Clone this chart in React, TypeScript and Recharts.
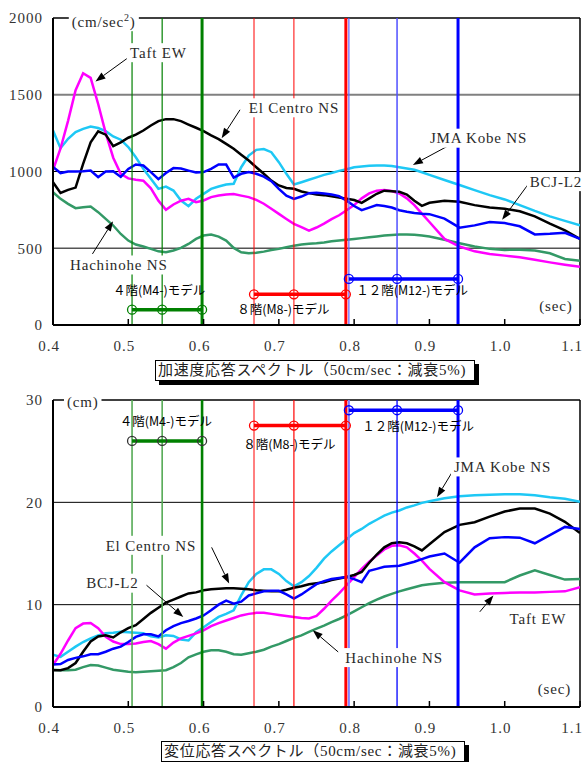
import React from "react";
import { ComposedChart, Line, XAxis, YAxis, ReferenceLine, ReferenceDot } from "recharts";

// natural period (sec)
const periods = [
  0.40, 0.41, 0.42, 0.43, 0.44, 0.45, 0.46, 0.47, 0.48, 0.49,
  0.50, 0.51, 0.52, 0.53, 0.54, 0.55, 0.56, 0.57, 0.58, 0.59,
  0.60, 0.61, 0.62, 0.63, 0.64, 0.65, 0.66, 0.67, 0.68, 0.69,
  0.70, 0.71, 0.72, 0.73, 0.74, 0.75, 0.76, 0.77, 0.78, 0.79,
  0.80, 0.81, 0.82, 0.83, 0.84, 0.85, 0.86, 0.87, 0.88, 0.89,
  0.90, 0.92, 0.94, 0.96, 0.98, 1.00, 1.02, 1.04, 1.06, 1.08, 1.10,
];

// acceleration response (cm/sec2)
const taftAcc = [
  1010, 1150, 1330, 1530, 1640, 1610, 1440, 1250, 1090, 985,
  955, 946, 940, 890, 810, 750, 785, 810, 822, 800,
  811, 833, 843, 850, 854, 843, 833, 815, 790, 757,
  724, 691, 659, 637, 615, 635, 660, 690, 715, 748,
  781, 825, 857, 875, 879, 873, 857, 825, 781, 726,
  671, 561, 511, 480, 463, 452, 441, 425, 408, 393, 379,
];
const elcentroAcc = [
  930, 860, 880, 895, 1050, 1190, 1262, 1240, 1165, 1190,
  1220, 1240, 1267, 1300, 1328, 1341, 1341, 1328, 1306, 1285,
  1263, 1235, 1211, 1180, 1148, 1109, 1072, 1028, 985, 941,
  909, 893, 887, 870, 859, 850, 846, 838, 831, 822,
  814, 796, 825, 855, 875, 872, 868, 850, 810, 776,
  796, 809, 803, 781, 765, 757, 741, 708, 660, 616, 561,
];
const kobeAcc = [
  1267, 1152, 1213, 1257, 1278, 1293, 1283, 1263, 1228, 1207,
  1159, 1093, 1017, 952, 887, 902, 876, 811, 774, 822,
  854, 887, 902, 915, 920, 1028, 1104, 1141, 1146, 1126,
  1061, 985, 915, 930, 946, 962, 978, 990, 1004, 1015,
  1028, 1033, 1037, 1039, 1039, 1036, 1028, 1020, 1011, 995,
  978, 945, 912, 879, 846, 818, 781, 743, 708, 678, 649,
];
const bcjAcc = [
  1030, 990, 1000, 1000, 1002, 1006, 963, 1000, 1002, 965,
  1017, 1046, 1039, 996, 950, 990, 1022, 1020, 1006, 993,
  996, 1017, 1046, 1045, 960, 985, 996, 985, 967, 937,
  887, 843, 822, 837, 859, 862, 857, 850, 840, 810,
  775, 748, 765, 781, 775, 765, 748, 738, 730, 725,
  722, 693, 634, 649, 671, 664, 643, 590, 594, 601, 561,
];
const hachinoheAcc = [
  865, 822, 789, 761, 767, 772, 735, 691, 648, 593,
  550, 524, 511, 496, 480, 474, 485, 502, 528, 561,
  583, 589, 576, 550, 502, 474, 467, 470, 478, 489,
  496, 507, 517, 524, 530, 533, 538, 545, 550, 555,
  561, 566, 572, 577, 583, 586, 590, 590, 588, 583,
  577, 555, 533, 511, 496, 489, 491, 485, 467, 430, 419,
];

// displacement response (cm)
const taftDisp = [
  4.1, 5.2, 6.5, 7.7, 8.15, 8.2, 7.7, 6.85, 6.4, 6.15,
  6.15, 6.2, 6.35, 6.45, 6.15, 5.7, 6.3, 6.7, 6.95, 7.2,
  7.5, 7.9, 8.2, 8.45, 8.7, 8.95, 9.1, 9.2, 9.2, 9.1,
  9.0, 8.9, 8.8, 8.7, 8.65, 8.9, 9.6, 10.4, 11.1, 11.9,
  12.7, 13.5, 14.2, 14.8, 15.4, 15.75, 15.8, 15.6, 15.0, 14.3,
  13.5, 12.2, 11.4, 11.0, 11.1, 11.15, 11.2, 11.2, 11.25, 11.3, 11.7,
];
const elcentroDisp = [
  3.6, 3.6, 3.8, 4.3, 5.4, 6.4, 6.9, 7.0, 6.8, 7.3,
  7.7, 8.0, 8.6, 9.2, 9.7, 10.2, 10.5, 10.8, 11.1, 11.2,
  11.4, 11.5, 11.55, 11.6, 11.6, 11.55, 11.5, 11.4, 11.35, 11.3,
  11.3, 11.45, 11.65, 11.8, 12.0, 12.1, 12.2, 12.4, 12.55, 12.7,
  12.9, 13.2, 14.1, 14.9, 15.6, 16.0, 16.1, 16.0, 15.7, 15.3,
  15.9, 17.1, 17.8, 18.05, 18.6, 19.1, 19.4, 19.4, 18.9, 18.1, 17.0,
];
const kobeDisp = [
  5.1, 4.9, 5.4, 5.9, 6.35, 6.7, 7.0, 7.2, 7.25, 7.35,
  7.3, 7.25, 7.2, 6.9, 6.8, 7.0, 6.95, 6.6, 6.5, 7.3,
  7.8, 8.3, 8.8, 9.1, 9.45, 10.9, 12.2, 13.0, 13.45, 13.45,
  13.0, 12.3, 11.8, 12.2, 12.8, 13.6, 14.5, 15.2, 15.8, 16.4,
  17.0, 17.4, 17.9, 18.3, 18.7, 19.0, 19.2, 19.5, 19.7, 19.95,
  20.1, 20.4, 20.6, 20.7, 20.75, 20.8, 20.8, 20.7, 20.5, 20.35, 20.05,
];
const bcjDisp = [
  4.15, 4.2, 4.6, 4.8, 4.95, 5.15, 5.15, 5.4, 5.7, 5.9,
  6.35, 6.85, 7.1, 7.1, 6.9, 7.5, 7.9, 8.2, 8.4, 8.65,
  8.95, 9.45, 10.0, 10.4, 10.1, 10.3, 10.9, 11.1, 11.3, 11.35,
  11.35, 11.0, 10.6, 11.0, 11.5, 12.0, 12.3, 12.5, 12.6, 12.7,
  12.5, 12.2, 13.3, 13.5, 13.7, 13.75, 13.8, 14.0, 14.2, 14.45,
  14.7, 15.0, 14.1, 15.6, 16.5, 16.6, 16.55, 16.0, 16.8, 17.6, 17.4,
];
const hachinoheDisp = [
  3.65, 3.6, 3.6, 3.65, 3.9, 4.1, 4.05, 3.85, 3.65, 3.55,
  3.45, 3.4, 3.45, 3.5, 3.55, 3.6, 3.9, 4.3, 4.85, 5.15,
  5.4, 5.55, 5.55, 5.4, 5.15, 5.1, 5.25, 5.4, 5.6, 5.9,
  6.15, 6.45, 6.75, 7.0, 7.35, 7.65, 7.95, 8.3, 8.6, 8.95,
  9.35, 9.75, 10.15, 10.5, 10.8, 11.05, 11.3, 11.5, 11.7, 11.9,
  12.0, 12.15, 12.2, 12.2, 12.2, 12.2, 12.85, 13.35, 12.9, 12.45, 12.5,
];

// model periods (sec)
const m4Periods = [0.505, 0.545, 0.598];
const m8Periods = [0.667, 0.72, 0.789];
const m12Periods = [0.793, 0.857, 0.938];
const accModelLevels = [100, 200, 300];
const dispModelLevels = [26, 27.5, 29];

const xTicks = [0.4, 0.5, 0.6, 0.7, 0.8, 0.9, 1.0, 1.1];
const accTicks = [0, 500, 1000, 1500, 2000];
const dispTicks = [0, 10, 20, 30];

const SERIF = "'Liberation Serif', 'DejaVu Serif', serif";
const JP = "'Noto Sans CJK JP', sans-serif";
const TAG_SIZE = 15;
const TAG_SPACING = 0.8;

const SERIES = [
  { key: "hachinohe", color: "#339966" },
  { key: "kobe", color: "#1ec8f5" },
  { key: "taft", color: "#ff00ff" },
  { key: "elcentro", color: "#000000" },
  { key: "bcj", color: "#0000ff" },
];

const accRows = periods.map((t, i) => ({
  t,
  taft: taftAcc[i],
  elcentro: elcentroAcc[i],
  kobe: kobeAcc[i],
  bcj: bcjAcc[i],
  hachinohe: hachinoheAcc[i],
}));
const dispRows = periods.map((t, i) => ({
  t,
  taft: taftDisp[i],
  elcentro: elcentroDisp[i],
  kobe: kobeDisp[i],
  bcj: bcjDisp[i],
  hachinohe: hachinoheDisp[i],
}));

type VLine = { c: string; w: number };
type Model = { periods: number[]; level: number; color: string; dot: string; lines: VLine[]; label: string; at: [number, number] };
type Tag = { text: string; at: [number, number]; from: [number, number]; to: [number, number] };

const accModels: Model[] = [
  { periods: m4Periods, level: accModelLevels[0], color: "#008000", dot: "#008000", label: "４階(M4-)モデル", at: [0.541, 228],
    lines: [{ c: "#008000", w: 1.2 }, { c: "#008000", w: 1.2 }, { c: "#008000", w: 3 }] },
  { periods: m8Periods, level: accModelLevels[1], color: "#ff0000", dot: "#ff0000", label: "８階(M8-)モデル", at: [0.706, 104],
    lines: [{ c: "#ff0000", w: 1 }, { c: "#ff0000", w: 1 }, { c: "#ff0000", w: 3 }] },
  { periods: m12Periods, level: accModelLevels[2], color: "#0000ff", dot: "#0000ff", label: "１２階(M12-)モデル", at: [0.877, 228],
    lines: [{ c: "#6060ff", w: 1.2 }, { c: "#5050ff", w: 1.5 }, { c: "#0000ff", w: 3 }] },
];
const dispModels: Model[] = [
  { periods: m4Periods, level: dispModelLevels[0], color: "#008000", dot: "#333333", label: "４階(M4-)モデル", at: [0.55, 27.86],
    lines: [{ c: "#55aa55", w: 1.6 }, { c: "#55aa55", w: 1.6 }, { c: "#008000", w: 2.6 }] },
  { periods: m8Periods, level: dispModelLevels[1], color: "#ff0000", dot: "#ff0000", label: "８階(M8-)モデル", at: [0.714, 25.68],
    lines: [{ c: "#ff0000", w: 1 }, { c: "#ff0000", w: 1.2 }, { c: "#ff0000", w: 3 }] },
  { periods: m12Periods, level: dispModelLevels[2], color: "#0000ff", dot: "#0000ff", label: "１２階(M12-)モデル", at: [0.885, 27.37],
    lines: [{ c: "#8080ff", w: 2 }, { c: "#0000ff", w: 1.3 }, { c: "#0000ff", w: 3 }] },
];

const accTags: Tag[] = [
  { text: "Taft EW", at: [0.540, 1774], from: [0.498, 1735], to: [0.4564, 1587] },
  { text: "El Centro NS", at: [0.720, 1415], from: [0.6484, 1402], to: [0.624, 1217] },
  { text: "JMA Kobe NS", at: [0.9657, 1217], from: [0.9396, 1206], to: [0.878, 1043] },
  { text: "BCJ-L2", at: [1.068, 934], from: [1.0315, 919], to: [0.9965, 685] },
  { text: "Hachinohe NS", at: [0.4874, 391], from: [0.4524, 463], to: [0.4798, 676] },
];
const dispTags: Tag[] = [
  { text: "El Centro NS", at: [0.530, 15.8], from: [0.6107, 15.6], to: [0.634, 12.06] },
  { text: "BCJ-L2", at: [0.4788, 12.1], from: [0.5242, 11.9], to: [0.573, 8.8] },
  { text: "JMA Kobe NS", at: [0.9976, 23.46], from: [0.9344, 23.46], to: [0.910, 20.5] },
  { text: "Taft EW", at: [1.044, 8.67], from: [0.9669, 9.3], to: [0.985, 10.9] },
  { text: "Hachinohe NS", at: [0.853, 4.83], from: [0.7788, 5.38], to: [0.745, 7.5] },
];

let measureCtx: CanvasRenderingContext2D | null = null;
function textWidth(text: string, size: number) {
  if (!measureCtx) measureCtx = document.createElement("canvas").getContext("2d");
  if (!measureCtx) return text.length * size * 0.5;
  measureCtx.font = `${size}px ${SERIF}`;
  return measureCtx.measureText(text).width + text.length * TAG_SPACING;
}

const arrowShape = (p: any) => {
  const { x1, y1, x2, y2 } = p;
  if ([x1, y1, x2, y2].some((v) => v == null || isNaN(v))) return <g />;
  const a = Math.atan2(y2 - y1, x2 - x1);
  const L = 10, W = 3.6;
  const bx = x2 - L * Math.cos(a), by = y2 - L * Math.sin(a);
  const pts = [
    [x2, y2],
    [bx + W * Math.sin(a), by - W * Math.cos(a)],
    [bx - W * Math.sin(a), by + W * Math.cos(a)],
  ].map((q) => q.join(",")).join(" ");
  return (
    <g>
      <line x1={x1} y1={y1} x2={bx} y2={by} stroke="#000" strokeWidth={1} />
      <polygon points={pts} fill="#000" />
    </g>
  );
};

const tagShape = (text: string, masked: boolean, sup?: string) => (p: any) => {
  const { cx, cy } = p;
  if (cx == null || cy == null) return <g />;
  const w = textWidth(text + (sup ? ")" : ""), TAG_SIZE) + (sup ? 6 : 0) + 6;
  return (
    <g>
      {masked && <rect x={cx - w / 2} y={cy - 9.5} width={w} height={19} fill="#fff" />}
      <text
        x={cx - w / 2 + 3}
        y={cy}
        dy="0.35em"
        textAnchor="start"
        fontFamily={SERIF}
        fontSize={TAG_SIZE}
        letterSpacing={TAG_SPACING}
        fill="#2a2a2a"
      >
        {text}
        {sup && (
          <>
            <tspan dy={-6} fontSize={10}>{sup}</tspan>
            <tspan dy={6}>)</tspan>
          </>
        )}
      </text>
    </g>
  );
};

const jpShape = (text: string) => (p: any) => {
  const { cx, cy } = p;
  if (cx == null || cy == null) return <g />;
  return (
    <text x={cx} y={cy} dy="0.36em" textAnchor="middle" fontFamily={JP} fontSize={12.5} fill="#000">
      {text}
    </text>
  );
};

type PanelProps = {
  rows: any[];
  yMax: number;
  yTicks: number[];
  grid: { v: number; c: string; w: number }[];
  models: Model[];
  tags: Tag[];
  unit: string;
  unitSup?: string;
  unitAt: [number, number];
  secAt: [number, number];
};

const tickStyle = { fontFamily: SERIF, fontSize: 15, fill: "#333", letterSpacing: 1 };

function Panel({ rows, yMax, yTicks, grid, models, tags, unit, unitSup, unitAt, secAt }: PanelProps) {
  return (
    <ComposedChart width={587} height={355} data={rows} margin={{ top: 18, right: 7, bottom: 0, left: 0 }}>
      <XAxis
        type="number"
        dataKey="t"
        domain={[0.4, 1.1]}
        ticks={xTicks}
        allowDataOverflow
        tickFormatter={(v: number) => v.toFixed(1)}
        tick={{ ...tickStyle, dx: -4 }}
        tickSize={-6}
        tickMargin={21}
        tickLine={{ stroke: "#000", strokeWidth: 1.5 }}
        height={30}
        axisLine={{ stroke: "#000", strokeWidth: 2 }}
      />
      <YAxis
        type="number"
        domain={[0, yMax]}
        ticks={yTicks}
        allowDataOverflow
        width={53}
        tick={tickStyle}
        tickSize={0}
        tickMargin={10}
        axisLine={{ stroke: "#000", strokeWidth: 2 }}
      />
      {grid.map((g) => (
        <ReferenceLine key={"g" + g.v} y={g.v} stroke={g.c} strokeWidth={g.w} />
      ))}
      <ReferenceLine y={yMax} stroke="#000" strokeWidth={1.5} />
      <ReferenceLine x={1.1} stroke="#000" strokeWidth={1.5} />
      {SERIES.map((s) => (
        <Line
          key={s.key}
          dataKey={s.key}
          type="linear"
          stroke={s.color}
          strokeWidth={2.5}
          dot={false}
          activeDot={false}
          isAnimationActive={false}
        />
      ))}
      {models.map((m) =>
        m.periods.map((t, i) => (
          <ReferenceLine key={"v" + t} x={t} stroke={m.lines[i].c} strokeWidth={m.lines[i].w} />
        ))
      )}
      {models.map((m) => (
        <Line
          key={"m" + m.level}
          data={m.periods.map((t) => ({ t, v: m.level }))}
          dataKey="v"
          type="linear"
          stroke={m.color}
          strokeWidth={3.5}
          dot={{ r: 4.5, fill: "none", stroke: m.dot, strokeWidth: 1.3 }}
          activeDot={false}
          isAnimationActive={false}
        />
      ))}
      {models.map((m) => (
        <ReferenceDot key={"ml" + m.level} x={m.at[0]} y={m.at[1]} r={0} shape={jpShape(m.label)} />
      ))}
      {tags.map((g) => (
        <ReferenceLine
          key={"a" + g.text}
          segment={[{ x: g.from[0], y: g.from[1] }, { x: g.to[0], y: g.to[1] }]}
          shape={arrowShape}
        />
      ))}
      {tags.map((g) => (
        <ReferenceDot key={"t" + g.text} x={g.at[0]} y={g.at[1]} r={0} shape={tagShape(g.text, true)} />
      ))}
      <ReferenceDot x={unitAt[0]} y={unitAt[1]} r={0} shape={tagShape(unit, true, unitSup)} />
      <ReferenceDot x={secAt[0]} y={secAt[1]} r={0} shape={tagShape("(sec)", false)} />
    </ComposedChart>
  );
}

const captionStyle: React.CSSProperties = {
  position: "absolute",
  border: "1px solid #000",
  boxShadow: "4px 4px 0 #000",
  background: "#fff",
  padding: "0 8px 0 2px",
  fontFamily: "'Liberation Serif', 'Noto Sans CJK JP', serif",
  fontSize: 15,
  letterSpacing: 0.7,
  lineHeight: "19px",
  whiteSpace: "nowrap",
  color: "#222",
};

export default function App() {
  return (
    <div style={{ position: "absolute", left: 0, top: 0, width: 587, height: 762, overflow: "hidden", background: "#fff" }}>
      <div style={{ position: "absolute", left: 0, top: 0 }}>
        <Panel
          rows={accRows}
          yMax={2000}
          yTicks={accTicks}
          grid={[
            { v: 500, c: "#555", w: 1.5 },
            { v: 1000, c: "#000", w: 1 },
            { v: 1500, c: "#808080", w: 2 },
          ]}
          models={accModels}
          tags={accTags}
          unit="(cm/sec"
          unitSup="2"
          unitAt={[0.4675, 1976]}
          secAt={[1.068, 124]}
        />
      </div>
      <div style={{ ...captionStyle, left: 155, top: 360 }}>加速度応答スペクトル（50cm/sec：減衰5%)</div>
      <div style={{ position: "absolute", left: 0, top: 382 }}>
        <Panel
          rows={dispRows}
          yMax={30}
          yTicks={dispTicks}
          grid={[
            { v: 10, c: "#000", w: 1 },
            { v: 20, c: "#000", w: 1 },
          ]}
          models={dispModels}
          tags={dispTags}
          unit="(cm)"
          unitAt={[0.4395, 29.8]}
          secAt={[1.066, 1.79]}
        />
      </div>
      <div style={{ ...captionStyle, left: 161, top: 741 }}>変位応答スペクトル（50cm/sec：減衰5%)</div>
    </div>
  );
}
